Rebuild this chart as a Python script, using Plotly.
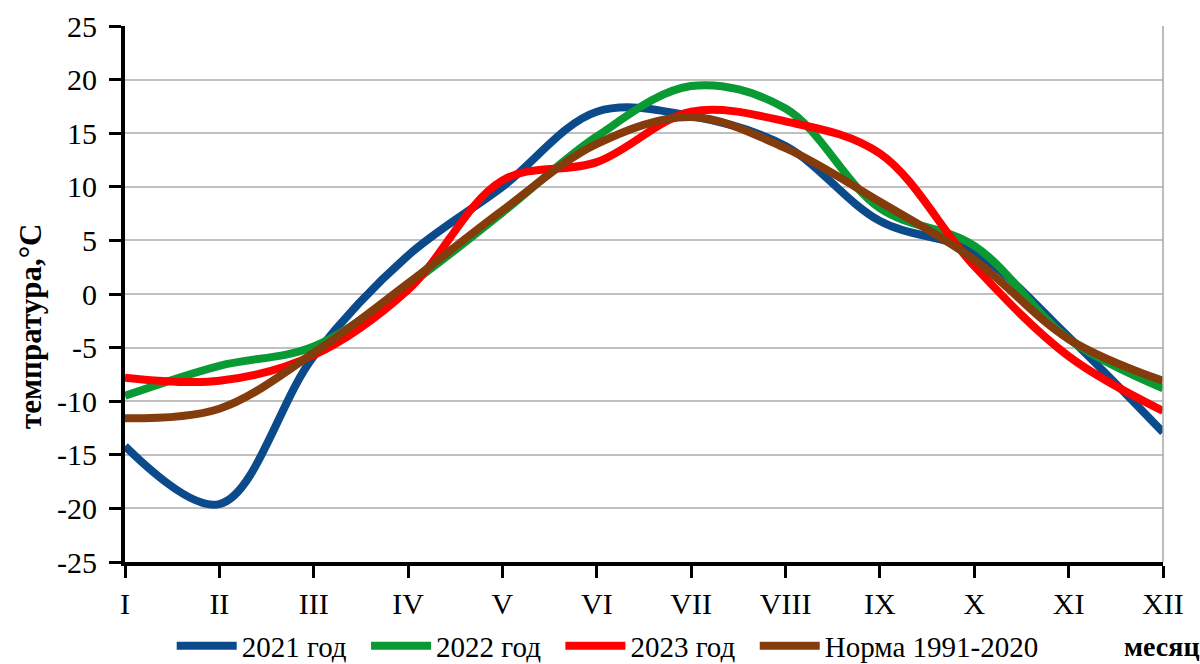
import plotly.graph_objects as go

months = ["I", "II", "III", "IV", "V", "VI", "VII", "VIII", "IX", "X", "XI", "XII"]
t2021 = [-14.2, -19.6, -5.8, 3.6, 10.0, 17.0, 16.6, 13.8, 6.8, 3.9, -4.0, -12.9]
t2022 = [-9.5, -6.7, -4.9, 0.8, 7.6, 14.7, 19.4, 17.3, 8.0, 4.5, -4.2, -8.8]
t2023 = [-7.8, -8.1, -5.7, 0.4, 10.6, 12.3, 17.0, 16.1, 13.1, 2.6, -5.8, -10.9]
norm = [-11.6, -10.7, -5.5, 1.0, 7.8, 14.0, 16.5, 13.6, 8.6, 3.2, -4.2, -8.1]
y_ticks = [-25, -20, -15, -10, -5, 0, 5, 10, 15, 20, 25]
y_ticktext = [str(v) for v in y_ticks]

series = [
    ("2021 год\u00a0\u00a0", t2021, "#0B4A8B"),
    ("2022 год\u00a0\u00a0", t2022, "#0A9A33"),
    ("2023 год\u00a0\u00a0", t2023, "#FF0000"),
    ("Норма 1991-2020", norm, "#843C0C"),
]

x = list(range(len(months)))
fig = go.Figure()
for name, vals, col in series:
    fig.add_trace(go.Scatter(
        x=x, y=vals, name=name, mode="lines",
        line=dict(color=col, width=8, shape="spline", smoothing=1.0),
    ))

font_family = "Liberation Serif, Times New Roman, serif"
fig.update_layout(
    width=1200, height=664,
    margin=dict(l=125, r=37, t=26, b=102, autoexpand=False),
    plot_bgcolor="white", paper_bgcolor="white",
    font=dict(family=font_family, color="black"),
    showlegend=True,
    legend=dict(
        orientation="h", x=0.045, xanchor="left", y=(562 - 646) / 536, yanchor="middle",
        font=dict(size=29, family=font_family, color="black"), itemwidth=60,
        bgcolor="rgba(0,0,0,0)", tracegroupgap=0,
    ),
    xaxis=dict(
        range=[0, 11], tickvals=x, ticktext=months,
        showgrid=False, zeroline=False,
        showline=True, linecolor="black", linewidth=4,
        ticks="outside", ticklen=12, tickwidth=3, tickcolor="black",
        tickfont=dict(size=30, family=font_family),
        ticklabelstandoff=0,
    ),
    yaxis=dict(
        range=[-25, 25], tickvals=y_ticks, ticktext=y_ticktext,
        showgrid=True, gridcolor="#C0C0C0", gridwidth=1.5,
        zeroline=False,
        showline=True, linecolor="black", linewidth=4,
        ticks="outside", ticklen=12, tickwidth=3, tickcolor="black",
        tickfont=dict(size=30, family=font_family),
        ticklabelstandoff=6,
    ),
    shapes=[dict(type="line", xref="paper", yref="paper", x0=1, x1=1, y0=0, y1=1,
                 line=dict(color="#A6A6A6", width=1.5))],
    annotations=[
        dict(text="<b>темпратура,°C</b>", xref="paper", yref="paper",
             x=-0.0915, y=(562 - 326) / 536, xanchor="center", yanchor="middle",
             textangle=-90, showarrow=False, font=dict(size=31, family=font_family)),
        dict(text="<b>месяц</b>", xref="paper", yref="paper",
             x=(1122 - 125) / 1038, y=(562 - 646) / 536, xanchor="left", yanchor="middle",
             showarrow=False, font=dict(size=28, family=font_family)),
    ],
)

fig.write_html("out.html", config={"displayModeBar": False},
               post_script="document.body.style.margin='0px';document.body.style.overflow='hidden';")
